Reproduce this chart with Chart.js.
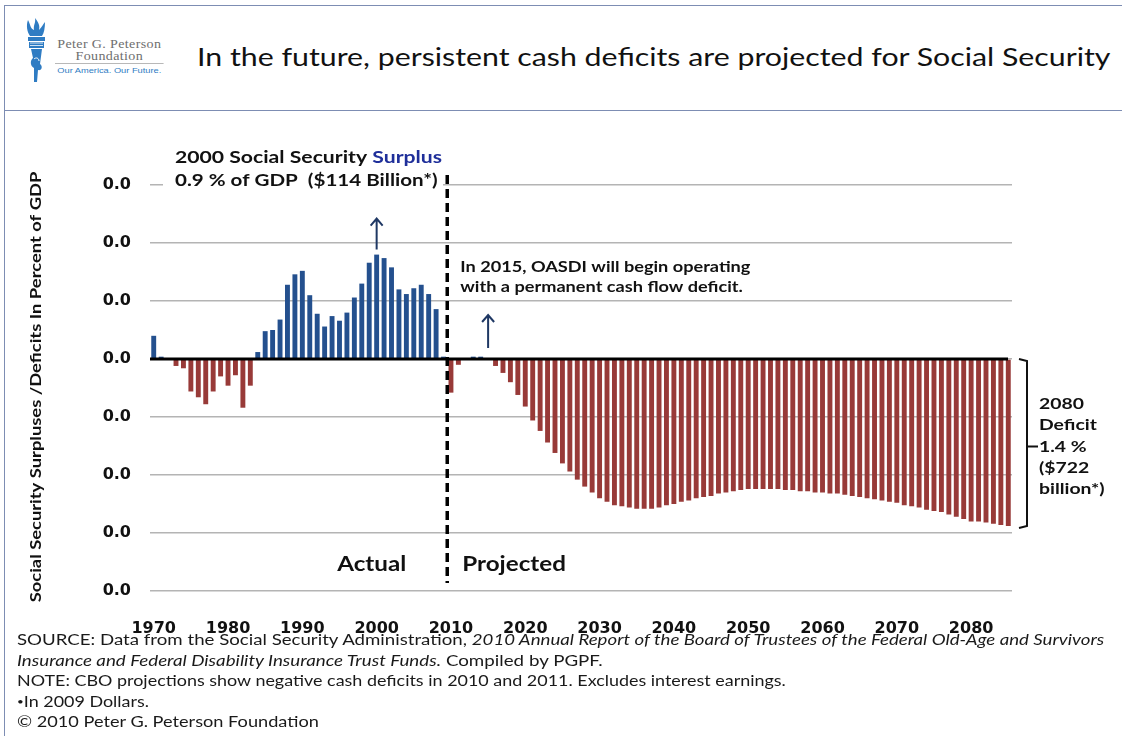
<!DOCTYPE html>
<html>
<head>
<meta charset="utf-8">
<title>Social Security cash deficits</title>
<script src="https://cdn.jsdelivr.net/npm/chart.js@4.4.1/dist/chart.umd.min.js"></script>
<style>
    html, body { margin: 0; padding: 0; background: #fff; }
    body { width: 1122px; height: 736px; position: relative; overflow: hidden; font-family: Lato, "Open Sans", sans-serif; color: #111; }
    #frame-top { position: absolute; left: 4px; top: 5px; width: 1118px; height: 0; border-top: 1.5px solid #7d8db3; }
    #frame-left { position: absolute; left: 4px; top: 5px; width: 0; height: 731px; border-left: 1.5px solid #7d8db3; }
    #frame-sep { position: absolute; left: 4px; top: 110px; width: 1118px; height: 0; border-top: 1.5px solid #7d8db3; }
    #logo { position: absolute; left: 22px; top: 16px; width: 150px; height: 70px; }
    #logo svg { position: absolute; left: 0; top: 0; }
    #logo-text { position: absolute; left: 33px; top: 0; width: 89px; height: 70px; transform: scaleX(1.22); transform-origin: 0 0; }
    .logo-name { position: absolute; left: 0; width: 89px; text-align: center; font-family: "Liberation Serif", serif; color: #6e6e6e; font-size: 11.5px; letter-spacing: 0.3px; line-height: 12px; }
    #logo-rule { position: absolute; left: 0; top: 47px; width: 89px; border-top: 1px solid #b8b8b8; }
    #logo-tag { position: absolute; left: 0; top: 50px; width: 89px; text-align: center; font-family: "Liberation Sans", sans-serif; color: #2f7cc3; font-size: 7.6px; }
    #title { position: absolute; left: 197px; top: 41px; font-size: 25px; white-space: nowrap; color: #111; transform: scaleX(1.212); transform-origin: 0 0; }
    #chart-wrap { position: absolute; left: 0; top: 0; width: 1122px; height: 736px; }
    #footer { position: absolute; left: 17px; top: 629px; font-size: 15.4px; line-height: 20.6px; color: #1a1a1a; white-space: nowrap; }
    #footer div { transform-origin: 0 0; height: 20.6px; }
    #footer i { font-style: italic; }
    .dot { font-size: 10px; vertical-align: 2px; }
</style>
</head>
<body>
<div id="frame-top"></div>
<div id="frame-left"></div>
<div id="frame-sep"></div>

<div id="logo">
    <svg width="30" height="70" viewBox="0 0 30 70">
        <!-- flame -->
        <path d="M6 4 C9 10 8 12 12 14 C11 9 14 7 13 2 C17 7 18 10 17 14 C20 11 21 8 23 6 C23 12 22 17 20 20 L8 20 C5 16 4 9 6 4 Z" fill="#2f7cc3"/>
        <!-- cup -->
        <rect x="6" y="21" width="17" height="4" fill="#2f7cc3"/>
        <rect x="7" y="26" width="15" height="6" fill="#2f7cc3"/>
        <path d="M8 27 h13 M8 29.5 h13" stroke="#fff" stroke-width="0.8"/>
        <!-- hand and handle -->
        <path d="M9 33 L20 33 L18 48 C21 50 20 55 16 54 L15 66 L12 66 L12 52 C8 50 8 44 11 42 Z" fill="#2f7cc3"/>
        <path d="M12 43 C14 41 17 42 17 45" stroke="#fff" stroke-width="1" fill="none"/>
    </svg>
    <div id="logo-text">
        <div class="logo-name" style="top:22px">Peter G. Peterson</div>
        <div class="logo-name" style="top:34px">Foundation</div>
        <div id="logo-rule"></div>
        <div id="logo-tag">Our America. Our Future.</div>
    </div>
</div>

<div id="title">In the future, persistent cash deficits are projected for Social Security</div>

<div id="chart-wrap"><canvas id="chart" width="1122" height="736"></canvas></div>

<div id="footer">
    <div style="transform:scaleX(1.212)">SOURCE: Data from the Social Security Administration, <i>2010 Annual Report of the Board of Trustees of the Federal Old-Age and Survivors</i></div>
    <div style="transform:scaleX(1.218)"><i>Insurance and Federal Disability Insurance Trust Funds.</i> Compiled by PGPF.</div>
    <div style="transform:scaleX(1.165)">NOTE: CBO projections show negative cash deficits in 2010 and 2011. Excludes interest earnings.</div>
    <div style="transform:scaleX(1.165)"><span class="dot">•</span>In 2009 Dollars.</div>
    <div style="transform:scaleX(1.18)">© 2010 Peter G. Peterson Foundation</div>
</div>

<script>
// cash surplus (+) / deficit (-) as percent of GDP, one value per year
const actualYears = [];
for (let y = 1970; y <= 2009; y++) actualYears.push(String(y));
const actualValues = [
    0.20, 0.02, 0.00, -0.06, -0.08, -0.28, -0.33, -0.39, -0.28, -0.15,
    -0.23, -0.14, -0.42, -0.23, 0.06, 0.24, 0.25, 0.34, 0.64, 0.73,
    0.76, 0.55, 0.39, 0.28, 0.37, 0.33, 0.40, 0.53, 0.65, 0.83,
    0.90, 0.87, 0.79, 0.60, 0.56, 0.61, 0.64, 0.56, 0.43, 0.02
];

const projectedYears = [];
for (let y = 2010; y <= 2085; y++) projectedYears.push(String(y));
const projectedValues = [
    -0.29, -0.05, 0.00, 0.02, 0.02, 0.00, -0.06, -0.12, -0.20, -0.31,
    -0.41, -0.53, -0.62, -0.72, -0.81, -0.90, -0.97, -1.04, -1.10, -1.15,
    -1.20, -1.23, -1.26, -1.27, -1.28, -1.29, -1.29, -1.29, -1.28, -1.26,
    -1.25, -1.23, -1.22, -1.20, -1.19, -1.18, -1.16, -1.15, -1.14, -1.13,
    -1.12, -1.12, -1.12, -1.12, -1.12, -1.13, -1.13, -1.14, -1.14, -1.15,
    -1.15, -1.16, -1.16, -1.17, -1.18, -1.19, -1.20, -1.21, -1.22, -1.23,
    -1.24, -1.26, -1.27, -1.28, -1.30, -1.31, -1.32, -1.34, -1.36, -1.38,
    -1.40, -1.40, -1.41, -1.42, -1.43, -1.44
];

const xTickLabels = ['1970', '1980', '1990', '2000', '2010', '2020', '2030', '2040', '2050', '2060', '2070', '2080'];
const yTickLabels = ['0.0', '0.0', '0.0', '0.0', '0.0', '0.0', '0.0', '0.0'];

const years = actualYears.concat(projectedYears);
const values = actualValues.concat(projectedValues);

const surplusYear = '2000';
const deficitStartYear = '2015';
const deficitYear = '2080';

const BLUE = '#24508e';
const RED = '#983a38';
const NAVY = '#1f3864';
const BOLD = 'Lato, "Open Sans", sans-serif';
const TICK_FONT = '"DejaVu Sans", sans-serif';
const WIDE = 1.21; // horizontal stretch for the bold notes

// draws text widened along its own baseline
function wideText(ctx, text, x, y, align) {
    ctx.save();
    ctx.translate(x, y);
    ctx.scale(WIDE, 1);
    ctx.textAlign = align || 'left';
    ctx.fillText(text, 0, 0);
    ctx.restore();
}

// text, arrows, divider and bracket on top of the bars
const overlay = {
    id: 'overlay',
    beforeDatasetsDraw(chart) {
        const ctx = chart.ctx;
        // the surplus note sits on a white box over the top grid line
        ctx.save();
        ctx.fillStyle = '#fff';
        ctx.fillRect(163, 140, 280, 54);
        ctx.restore();
    },
    afterDatasetsDraw(chart) {
        const ctx = chart.ctx;
        const x = chart.scales.x;
        const y = chart.scales.y;
        const area = chart.chartArea;
        const y0 = y.getPixelForValue(0);

        // zero line
        ctx.save();
        ctx.strokeStyle = '#000';
        ctx.lineWidth = 3;
        ctx.beginPath();
        ctx.moveTo(area.left, y0);
        ctx.lineTo(area.right - 4, y0);
        ctx.stroke();

        // actual / projected divider
        const split = (x.getPixelForValue(actualYears.length - 1) + x.getPixelForValue(actualYears.length)) / 2;
        ctx.setLineDash([9, 5]);
        ctx.lineWidth = 3.5;
        ctx.beginPath();
        ctx.moveTo(split, area.top - 10);
        ctx.lineTo(split, area.bottom - 8);
        ctx.stroke();
        ctx.setLineDash([]);

        // arrows
        function arrow(cx, yFrom, yTo) {
            ctx.strokeStyle = NAVY;
            ctx.lineWidth = 2;
            ctx.beginPath();
            ctx.moveTo(cx, yFrom);
            ctx.lineTo(cx, yTo);
            ctx.moveTo(cx - 6, yTo + 7);
            ctx.lineTo(cx, yTo);
            ctx.lineTo(cx + 6, yTo + 7);
            ctx.stroke();
        }
        const sx = x.getPixelForValue(years.indexOf(surplusYear));
        const sTop = y.getPixelForValue(values[years.indexOf(surplusYear)]);
        arrow(sx, sTop - 5, sTop - 36);
        const dx = x.getPixelForValue(years.indexOf(deficitStartYear));
        arrow(dx, y0 - 11, y0 - 44);

        // notes
        ctx.fillStyle = '#111';
        ctx.textBaseline = 'middle';
        ctx.font = 'bold 17.5px ' + BOLD;
        const head = '2000 Social Security ';
        wideText(ctx, head, 175, 157);
        ctx.fillStyle = '#1f2f9a';
        wideText(ctx, 'Surplus', 175 + ctx.measureText(head).width * WIDE, 157);
        ctx.fillStyle = '#111';
        ctx.font = 'bold 17px ' + BOLD;
        wideText(ctx, '0.9 % of GDP  ($114 Billion*)', 175, 181);

        ctx.font = 'bold 15px ' + BOLD;
        wideText(ctx, 'In 2015, OASDI will begin operating', split + 13, 267);
        wideText(ctx, 'with a permanent cash flow deficit.', split + 13, 287);

        ctx.font = 'bold 20px ' + BOLD;
        wideText(ctx, 'Actual', split - 41, 565, 'right');
        wideText(ctx, 'Projected', split + 15, 565);

        // bracket for the 2080 deficit
        const bTop = y0;
        const bBot = y.getPixelForValue(values[values.length - 1]) + 2;
        const bx = area.right + 15;
        const mid = y.getPixelForValue(values[years.indexOf(deficitYear)]) - 75;
        ctx.strokeStyle = '#111';
        ctx.lineWidth = 2;
        ctx.beginPath();
        ctx.moveTo(bx - 8, bTop);
        ctx.lineTo(bx, bTop + 2);
        ctx.lineTo(bx, bBot - 2);
        ctx.lineTo(bx - 8, bBot);
        ctx.moveTo(bx, mid);
        ctx.lineTo(bx + 11, mid);
        ctx.stroke();

        ctx.font = 'bold 16px ' + BOLD;
        ctx.fillStyle = '#111';
        const lines = ['2080', 'Deficit', '1.4 %', '($722', 'billion*)'];
        lines.forEach((t, i) => wideText(ctx, t, bx + 12, mid + (i - 2) * 21.3));

        // axis title
        ctx.save();
        ctx.translate(36, 387);
        ctx.rotate(-Math.PI / 2);
        ctx.font = 'bold 15.2px ' + BOLD;
        wideText(ctx, 'Social Security Surpluses /Deficits In Percent of GDP', 0, 0, 'center');
        ctx.restore();

        ctx.restore();
    }
};

const ctx = document.getElementById('chart').getContext('2d');
new Chart(ctx, {
    type: 'bar',
    data: {
        labels: years,
        datasets: [{
            data: values,
            backgroundColor: values.map(v => v >= 0 ? BLUE : RED),
            barPercentage: 0.66,
            categoryPercentage: 1.0,
            borderWidth: 0
        }]
    },
    options: {
        responsive: false,
        animation: false,
        layout: { padding: { top: 185, right: 110, left: 0, bottom: 0 } },
        plugins: {
            legend: { display: false },
            tooltip: { enabled: false }
        },
        scales: {
            x: {
                grid: { display: false },
                border: { display: false },
                afterFit(scale) { scale.height = 145; },
                ticks: {
                    autoSkip: false,
                    maxRotation: 0,
                    padding: 20,
                    color: '#111',
                    font: { family: TICK_FONT, size: 16, weight: 'bold' },
                    callback(value) {
                        const label = years[value];
                        return xTickLabels.includes(label) ? label : '';
                    }
                }
            },
            y: {
                min: -2.0,
                max: 1.5,
                border: { display: false },
                afterFit(scale) { scale.width = 150; },
                grid: { color: '#b4b4b4', lineWidth: 1.5, drawTicks: false },
                ticks: {
                    stepSize: 0.5,
                    padding: 19,
                    color: '#111',
                    font: { family: TICK_FONT, size: 16, weight: 'bold' },
                    callback(value, index) { return yTickLabels[index]; }
                }
            }
        }
    },
    plugins: [overlay]
});
</script>
</body>
</html>
